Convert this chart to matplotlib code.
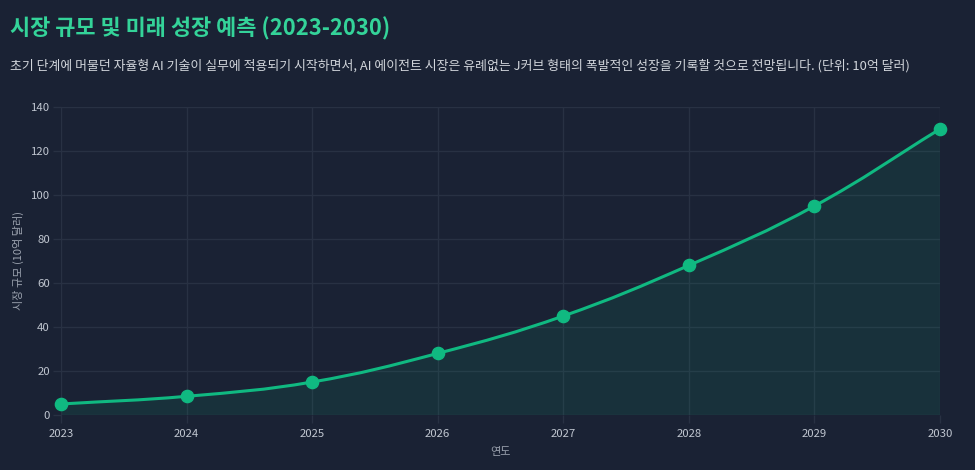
import matplotlib
matplotlib.use("Agg")
import matplotlib.pyplot as plt
import numpy as np
from matplotlib.path import Path
from matplotlib.patches import PathPatch

plt.rcParams['font.family'] = ['Noto Sans CJK KR', 'DejaVu Sans']

years = [2023, 2024, 2025, 2026, 2027, 2028, 2029, 2030]
market = [5, 8.5, 15, 28, 45, 68, 95, 130]
title = "시장 규모 및 미래 성장 예측 (2023-2030)"
subtitle = "초기 단계에 머물던 자율형 AI 기술이 실무에 적용되기 시작하면서, AI 에이전트 시장은 유례없는 J커브 형태의 폭발적인 성장을 기록할 것으로 전망됩니다. (단위: 10억 달러)"
xlabel = "연도"
ylabel = "시장 규모 (10억 달러)"

BG = "#1a2234"
LINE = "#10b981"
GRID = "#283143"
TICK = "#c0c6d0"

fig = plt.figure(figsize=(9.75, 4.7), dpi=100, facecolor=BG)
ax = fig.add_axes([61/975, 1-415/470, 879/975, 308/470])
ax.set_facecolor(BG)
ax.set_xlim(years[0], years[-1])
ax.set_ylim(0, 140)
ax.set_xticks(years)
ax.set_yticks(range(0, 141, 20))
ax.set_axisbelow(True)
for s in ax.spines.values():
    s.set_visible(False)
ax.spines['left'].set_visible(True)
ax.spines['left'].set_color(GRID)
ax.tick_params(labelsize=8.2, length=6, width=1, color=GRID)
ax.tick_params(axis='x', pad=4)
ax.tick_params(axis='y', pad=2)
for lbl in ax.get_xticklabels() + ax.get_yticklabels():
    lbl.set_color(TICK)
ax.grid(True, color=GRID, linewidth=1)

# Chart.js-style smooth bezier (tension 0.4) computed in display space
fig.canvas.draw()
pts = ax.transData.transform(np.column_stack([years, market]))
t = 0.4
n = len(pts)
cps_prev = [None]*n
cps_next = [None]*n
for i in range(n):
    p1 = pts[i]
    p0 = pts[i-1] if i > 0 else p1
    p2 = pts[i+1] if i < n-1 else p1
    d01 = np.hypot(*(p1-p0))
    d12 = np.hypot(*(p2-p1))
    tot = d01 + d12
    s01 = d01/tot if tot else 0
    s12 = d12/tot if tot else 0
    cps_prev[i] = p1 - t*s01*(p2-p0)
    cps_next[i] = p1 + t*s12*(p2-p0)
verts = [pts[0]]
codes = [Path.MOVETO]
for i in range(n-1):
    verts += [cps_next[i], cps_prev[i+1], pts[i+1]]
    codes += [Path.CURVE4]*3
inv = ax.transData.inverted()
verts_d = inv.transform(np.array(verts))
line_path = Path(verts_d, codes)
fill_verts = list(verts_d) + [(years[-1], 0), (years[0], 0), (years[0], 0)]
fill_codes = codes + [Path.LINETO, Path.LINETO, Path.CLOSEPOLY]
fill_path = Path(fill_verts, fill_codes)
ax.add_patch(PathPatch(fill_path, facecolor=(16/255, 185/255, 129/255, 0.10), edgecolor='none', zorder=2))
ax.add_patch(PathPatch(line_path, facecolor='none', edgecolor=LINE, linewidth=2.2, zorder=3, clip_on=False))
ax.plot(years, market, linestyle='none', marker='o', markersize=8.8, color=LINE, zorder=4, clip_on=False)

ax.set_xlabel(xlabel, color="#9ca3af", fontsize=8, labelpad=6)
ax.set_ylabel(ylabel, color="#9ca3af", fontsize=8, labelpad=5)

fig.text(10/975, 1-29/470, title, color="#34d399", fontsize=15.8, fontweight='bold', va='center', ha='left')
fig.text(10/975, 1-66/470, subtitle, color="#d1d5db", fontsize=9.3, fontweight='medium', va='center', ha='left')

fig.savefig("out.png", dpi=100, facecolor=BG)
